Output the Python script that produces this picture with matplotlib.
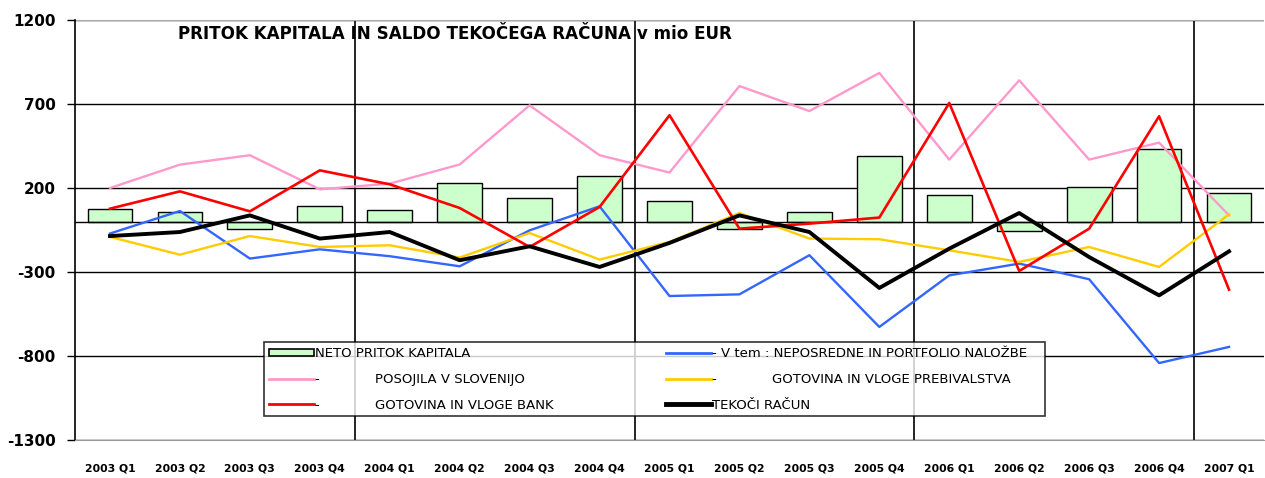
import matplotlib
matplotlib.use("Agg")
import matplotlib.pyplot as plt
from matplotlib.patches import Patch
from matplotlib.lines import Line2D

plt.rcParams['font.family'] = ['DejaVu Sans']

categories = ["2003 Q1", "2003 Q2", "2003 Q3", "2003 Q4",
              "2004 Q1", "2004 Q2", "2004 Q3", "2004 Q4",
              "2005 Q1", "2005 Q2", "2005 Q3", "2005 Q4",
              "2006 Q1", "2006 Q2", "2006 Q3", "2006 Q4",
              "2007 Q1"]

neto_pritok = [75, 59, -42, 91, 67, 232, 141, 274, 125, -42, 59, 390, 157, -56, 208, 432, 173]
neposredne_portfolio = [-71, 63, -220, -165, -206, -266, -52, 91, -443, -433, -200, -627, -320, -250, -343, -842, -746]
posojila = [200, 339, 395, 192, 226, 340, 692, 395, 292, 807, 658, 885, 369, 841, 369, 470, 37]
gotovina_prebivalstva = [-91, -197, -86, -151, -141, -214, -68, -226, -121, 51, -101, -105, -171, -240, -151, -270, 43]
gotovina_bank = [77, 180, 61, 305, 222, 81, -151, 87, 633, -42, -12, 24, 706, -294, -42, 627, -405]
tekoci_racun = [-86, -62, 37, -101, -62, -230, -147, -270, -127, 37, -62, -395, -161, 51, -211, -439, -177]

y_ticks = [1200, 700, 200, -300, -800, -1300]

title = "PRITOK KAPITALA IN SALDO TEKOČEGA RAČUNA v mio EUR"
lbl_neto = "NETO PRITOK KAPITALA"
lbl_nep = "- V tem : NEPOSREDNE IN PORTFOLIO NALOŽBE   "
lbl_pos = "-             POSOJILA V SLOVENIJO"
lbl_preb = "-             GOTOVINA IN VLOGE PREBIVALSTVA"
lbl_bank = "-             GOTOVINA IN VLOGE BANK"
lbl_tek = "TEKOČI RAČUN"

W, H = 1265, 478
fig = plt.figure(figsize=(W / 100, H / 100), dpi=100)
ax_l, ax_r, ax_t, ax_b = 75, 1264, 20, 440
ax = fig.add_axes([ax_l / W, 1 - ax_b / H, (ax_r - ax_l) / W, (ax_b - ax_t) / H])

x = list(range(len(categories)))

ax.bar(x, neto_pritok, width=0.64, color="#CCFFCC", edgecolor="black", linewidth=1.0, zorder=2)
ax.plot(x, neposredne_portfolio, color="#3366FF", lw=1.7, zorder=3)
ax.plot(x, posojila, color="#FF99CC", lw=1.7, zorder=3)
ax.plot(x, gotovina_prebivalstva, color="#FFCC00", lw=1.7, zorder=3)
ax.plot(x, gotovina_bank, color="#FF0000", lw=1.9, zorder=4)
ax.plot(x, tekoci_racun, color="black", lw=2.8, zorder=5)

ax.set_xlim(-0.5, len(categories) - 0.5)
ax.set_ylim(-1300, 1200)
ax.set_yticks(y_ticks)
ax.set_yticklabels([str(v) for v in y_ticks], fontweight="bold", fontsize=11)
ax.set_xticks(x)
ax.set_xticklabels(categories, fontweight="bold", fontsize=7.8)
ax.tick_params(axis="x", length=0, pad=17)
ax.tick_params(axis="y", length=6, width=1, pad=8, direction="out")

for v in y_ticks:
    ax.axhline(v, color="black", lw=1.0, zorder=1)
ax.axhline(0, color="black", lw=1.0, zorder=2.5)
for b in [3.5, 7.5, 11.5, 15.5]:
    ax.axvline(b, color="black", lw=1.2, zorder=1)

for s in ["top", "right"]:
    ax.spines[s].set_visible(False)
ax.spines["left"].set_linewidth(1.2)
ax.spines["bottom"].set_color("#999999")
ax.axhline(1200, color="#AAAAAA", lw=1.5, zorder=1)

fig.text(178 / W, 1 - 25 / H, title, fontsize=12.1, fontweight="bold", ha="left", va="top")

handles = [
    Patch(facecolor="#CCFFCC", edgecolor="black", linewidth=1.2),
    Line2D([], [], color="#FF99CC", lw=2),
    Line2D([], [], color="#FF0000", lw=2),
    Line2D([], [], color="#3366FF", lw=2),
    Line2D([], [], color="#FFCC00", lw=2),
    Line2D([], [], color="black", lw=3.5),
]
labels = [lbl_neto, lbl_pos, lbl_bank, lbl_nep, lbl_preb, lbl_tek]
lx0, ly0 = 264, 342
leg = ax.legend(handles, labels, ncol=2, loc="upper left",
                bbox_to_anchor=(lx0 / W, 1 - ly0 / H),
                bbox_transform=fig.transFigure,
                fontsize=9.5, frameon=True, fancybox=False, shadow=False,
                handlelength=3.4, handleheight=0.45, handletextpad=0.1,
                labelspacing=0.98, borderaxespad=0, borderpad=0.36, columnspacing=8.5)
leg.get_frame().set_edgecolor("black")
leg.get_frame().set_linewidth(1.2)
leg.set_zorder(10)

fig.savefig("out.png", dpi=100)
